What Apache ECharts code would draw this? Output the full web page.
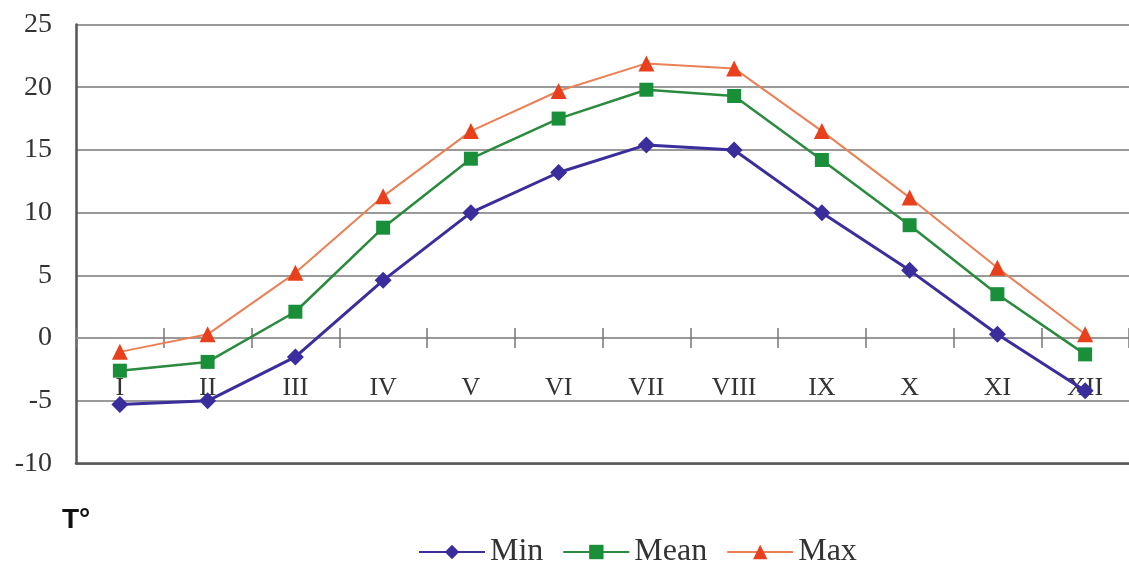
<!DOCTYPE html>
<html>
<head>
<meta charset="utf-8">
<script src="https://cdn.jsdelivr.net/npm/echarts@6/dist/echarts.min.js"></script>
<style>
html,body{margin:0;padding:0;background:#fff;}
#chart{width:1129px;height:561px;}
</style>
</head>
<body>
<div id="chart"></div>
<script>
const months = ['I','II','III','IV','V','VI','VII','VIII','IX','X','XI','XII'];
const minTemp  = [-5.3, -5.0, -1.5, 4.6, 10.0, 13.2, 15.4, 15.0, 10.0, 5.4, 0.3, -4.2];
const meanTemp = [-2.6, -1.9, 2.1, 8.8, 14.3, 17.5, 19.8, 19.3, 14.2, 9.0, 3.5, -1.3];
const maxTemp  = [-1.1, 0.3, 5.2, 11.3, 16.5, 19.7, 21.9, 21.5, 16.5, 11.2, 5.6, 0.3];
const seriesNames = ['Min', 'Mean', 'Max'];
const axisTitle = 'T°';

const chart = echarts.init(document.getElementById('chart'));
const serif = 'Liberation Serif';
const gridGray = '#9a9a9a';
const H = 561;
const gridMain = { left: 76, right: -8, top: 24.5, bottom: 97.5 };

function buildOption(zeroBottom) {
  return {
    backgroundColor: '#ffffff',
    animation: false,
    grid: [
      Object.assign({ containLabel: false }, gridMain),
      { left: gridMain.left, right: gridMain.right, top: gridMain.top, bottom: zeroBottom, containLabel: false }
    ],
    graphic: [{
      type: 'text', left: 62, top: 506,
      style: { text: axisTitle, font: 'bold 28px "Liberation Sans"', fill: '#111' }
    }],
    legend: {
      left: 413, top: 531,
      itemWidth: 66, itemHeight: 18, itemGap: 19,
      textStyle: { fontFamily: serif, fontSize: 32, color: '#333' },
      data: seriesNames
    },
    xAxis: [
      {
        gridIndex: 0, type: 'category', data: months, boundaryGap: true, position: 'bottom',
        axisLine: { onZero: false, lineStyle: { color: '#555', width: 2.5 } },
        axisTick: { show: false }, axisLabel: { show: false }, splitLine: { show: false }
      },
      {
        gridIndex: 1, type: 'category', data: months, boundaryGap: true, position: 'bottom',
        axisLine: { onZero: false, lineStyle: { color: gridGray, width: 2 } },
        axisTick: { show: true, inside: false, length: 10, lineStyle: { color: '#777', width: 1.5 } },
        axisLabel: { margin: 37, fontFamily: serif, fontSize: 26, color: '#333' },
        splitLine: { show: false }
      },
      {
        gridIndex: 1, type: 'category', data: months, boundaryGap: true, position: 'bottom', offset: 0,
        axisLine: { show: false, onZero: false },
        axisTick: { show: true, inside: true, length: 10, lineStyle: { color: '#777', width: 1.5 } },
        axisLabel: { show: false }, splitLine: { show: false }
      }
    ],
    yAxis: [
      {
        gridIndex: 0, type: 'value', min: -10, max: 25, interval: 5,
        axisLine: { show: true, onZero: false, lineStyle: { color: '#555', width: 2.5 } },
        axisTick: { show: false },
        axisLabel: { margin: 24, fontFamily: serif, fontSize: 28, color: '#333' },
        splitLine: { show: true, lineStyle: { color: gridGray, width: 2 } }
      },
      { gridIndex: 1, type: 'value', min: 0, max: 25, show: false }
    ],
    series: [
      {
        name: seriesNames[0], type: 'line', data: minTemp,
        symbol: 'diamond', symbolSize: 17,
        lineStyle: { color: '#3a2d9c', width: 3 },
        itemStyle: { color: '#3a2d9c' }, z: 5
      },
      {
        name: seriesNames[1], type: 'line', data: meanTemp,
        symbol: 'rect', symbolSize: 14,
        lineStyle: { color: '#2a8a3e', width: 2.5 },
        itemStyle: { color: '#1a8f3a' }, z: 4
      },
      {
        name: seriesNames[2], type: 'line', data: maxTemp,
        symbol: 'triangle', symbolSize: 16,
        lineStyle: { color: '#ea8055', width: 2 },
        itemStyle: { color: '#e8401c' }, z: 3
      }
    ]
  };
}

// first pass: main grid only to find where y = 0 falls
chart.setOption(buildOption(gridMain.bottom));
const zeroY = chart.convertToPixel({ yAxisIndex: 0 }, 0);
chart.setOption(buildOption(H - zeroY), true);
</script>
</body>
</html>
